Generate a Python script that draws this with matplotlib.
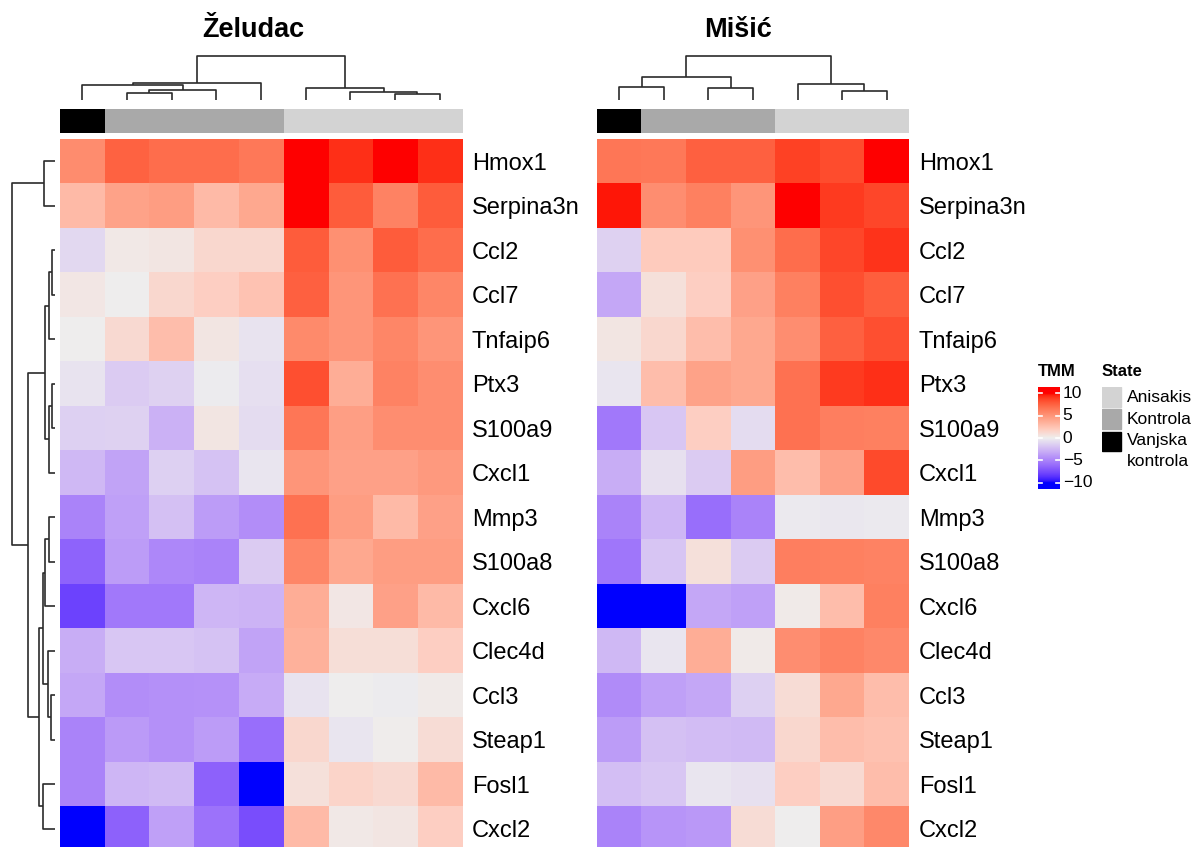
import numpy as np
import matplotlib
matplotlib.use("Agg")
import matplotlib.pyplot as plt
from matplotlib.colors import ListedColormap, Normalize

plt.rcParams['font.family'] = ['Liberation Sans', 'DejaVu Sans']

# ---- data -------------------------------------------------------------
genes = ['Hmox1', 'Serpina3n', 'Ccl2', 'Ccl7', 'Tnfaip6', 'Ptx3', 'S100a9', 'Cxcl1',
         'Mmp3', 'S100a8', 'Cxcl6', 'Clec4d', 'Ccl3', 'Steap1', 'Fosl1', 'Cxcl2']

zeludac = np.array([
    [5.5, 7.5, 7.0, 7.0, 6.5, 10, 9.3, 10, 9.3],
    [3.0, 4.3, 4.6, 3.0, 4.0, 10, 7.8, 6.0, 7.8],
    [-1.0, 0.3, 0.5, 1.3, 1.3, 7.8, 5.3, 7.8, 7.0],
    [0.4, 0.0, 1.3, 1.8, 2.5, 7.6, 5.0, 6.8, 5.8],
    [0.0, 1.2, 2.8, 0.5, -0.5, 5.6, 5.0, 5.8, 5.0],
    [-0.5, -1.6, -1.3, -0.1, -0.7, 8.3, 3.7, 6.0, 5.4],
    [-1.4, -1.3, -2.8, 0.5, -0.8, 6.6, 4.5, 5.4, 5.4],
    [-2.5, -3.5, -1.4, -2.0, -0.4, 5.0, 4.4, 4.4, 4.8],
    [-5.0, -3.6, -2.1, -3.8, -4.5, 6.8, 4.6, 3.0, 4.4],
    [-6.5, -3.8, -4.8, -5.0, -1.6, 5.8, 4.0, 4.6, 4.6],
    [-8.0, -5.5, -5.5, -2.6, -2.7, 3.7, 0.4, 4.4, 3.0],
    [-3.0, -1.8, -1.8, -2.0, -3.5, 3.5, 0.9, 0.9, 1.8],
    [-3.3, -4.5, -4.4, -4.3, -3.1, -0.5, 0.0, -0.1, 0.2],
    [-5.0, -3.9, -4.4, -3.8, -6.0, 1.3, -0.4, 0.1, 1.0],
    [-5.0, -2.6, -2.4, -6.6, -10, 0.8, 1.5, 1.2, 3.0],
    [-10, -6.6, -3.6, -5.8, -7.5, 3.0, 0.3, 0.5, 1.8],
])

misic = np.array([
    [6.6, 6.5, 7.6, 7.6, 8.8, 8.4, 10],
    [9.8, 5.4, 6.1, 5.0, 10, 9.0, 8.6],
    [-1.3, 2.0, 2.0, 5.3, 7.0, 8.6, 9.2],
    [-3.3, 0.8, 1.8, 4.4, 6.1, 8.3, 7.7],
    [0.5, 1.3, 2.8, 4.0, 5.4, 7.6, 8.3],
    [-0.4, 2.8, 4.3, 4.0, 6.8, 9.0, 9.3],
    [-5.5, -1.8, 1.8, -0.8, 6.8, 6.2, 6.1],
    [-3.0, -0.6, -1.6, 4.6, 2.8, 4.4, 8.5],
    [-5.0, -2.6, -6.0, -5.0, -0.2, -0.3, -0.2],
    [-5.6, -1.9, 0.8, -1.6, 6.2, 6.1, 6.0],
    [-10, -10, -3.3, -3.6, 0.2, 2.8, 6.1],
    [-2.5, -0.4, 3.7, 0.2, 5.4, 6.0, 5.7],
    [-4.6, -3.6, -3.3, -1.4, 1.0, 4.0, 2.8],
    [-3.8, -2.1, -2.3, -2.4, 1.3, 2.8, 2.6],
    [-2.2, -1.8, -0.4, -0.6, 1.8, 1.2, 2.8],
    [-5.0, -4.2, -4.0, 1.0, 0.0, 4.5, 5.7],
])

states = ['Anisakis', 'Kontrola', 'Vanjska\nkontrola']
state_colors = ['#D3D3D3', '#A9A9A9', '#000000']
zeludac_state = [2, 1, 1, 1, 1, 0, 0, 0, 0]
misic_state = [2, 1, 1, 1, 0, 0, 0]

# dendrograms: (height, left, right), leaves are column / row indices
zeludac_tree = (133, (50, (45, 0, (30, (20, 1, 2), 3)), 4), (37, 5, (25, 6, (18, 7, 8))))
misic_tree = (133, (68, (38, 0, 1), (37, 2, 3)), (48, 4, (27, 5, 6)))
row_tree = (130, (33, 0, 1),
            (80, (30, (17, (8, 2, 3), 4), (18, (8, 5, 6), 7)),
             (47, (37, (30, (17, 8, 9), 10), (20, 11, (13, 12, 13))), (35, 14, 15))))

tmm_breaks = [-10, -5, 0, 5, 10]


# ---- colour ramp in LAB space (blue - grey - red) ----------------------
def rgb_to_lab(rgb):
    c = np.asarray(rgb, float)
    lin = np.where(c <= 0.04045, c / 12.92, ((c + 0.055) / 1.055) ** 2.4)
    m = np.array([[0.4124, 0.3576, 0.1805], [0.2126, 0.7152, 0.0722], [0.0193, 0.1192, 0.9505]])
    xyz = lin @ m.T / np.array([0.95047, 1.0, 1.08883])
    d = 6 / 29
    f = np.where(xyz > d ** 3, np.cbrt(xyz), xyz / (3 * d * d) + 4 / 29)
    return np.stack([116 * f[..., 1] - 16, 500 * (f[..., 0] - f[..., 1]), 200 * (f[..., 1] - f[..., 2])], -1)


def lab_to_rgb(lab):
    lab = np.asarray(lab, float)
    fy = (lab[..., 0] + 16) / 116
    fx = fy + lab[..., 1] / 500
    fz = fy - lab[..., 2] / 200
    f = np.stack([fx, fy, fz], -1)
    d = 6 / 29
    xyz = np.where(f > d, f ** 3, 3 * d * d * (f - 4 / 29)) * np.array([0.95047, 1.0, 1.08883])
    minv = np.array([[3.2406, -1.5372, -0.4986], [-0.9689, 1.8758, 0.0415], [0.0557, -0.2040, 1.0570]])
    lin = np.clip(xyz @ minv.T, 0, 1)
    c = np.where(lin <= 0.0031308, 12.92 * lin, 1.055 * lin ** (1 / 2.4) - 0.055)
    return np.clip(c, 0, 1)


anchors = rgb_to_lab([[0, 0, 1], [0xEE / 255] * 3, [1, 0, 0]])
t = np.linspace(-1, 1, 512)
lab = np.where(t[:, None] < 0,
               anchors[1] + (anchors[1] - anchors[0]) * t[:, None],
               anchors[1] + (anchors[2] - anchors[1]) * t[:, None])
cmap = ListedColormap(lab_to_rgb(lab))
norm = Normalize(-10, 10)

# ---- layout (pixel based) ---------------------------------------------
W, H = 1191, 847
fig = plt.figure(figsize=(W / 100, H / 100), dpi=100)


def px_axes(x0, y0, x1, y1):
    ax = fig.add_axes([x0 / W, 1 - y1 / H, (x1 - x0) / W, (y1 - y0) / H])
    ax.set_axis_off()
    return ax


def draw_tree(ax, node, orient, lw=1.2, col='#2b2b2b'):
    """returns (position, height) of node"""
    if not isinstance(node, tuple):
        return node + 0.5, 0
    h, left, right = node
    pl, hl = draw_tree(ax, left, orient, lw, col)
    pr, hr = draw_tree(ax, right, orient, lw, col)
    ps = [pl, pl, pr, pr]
    hs = [hl, h, h, hr]
    if orient == 'top':
        ax.plot(ps, hs, color=col, lw=lw, clip_on=False, solid_capstyle='butt')
    else:
        ax.plot(hs, ps, color=col, lw=lw, clip_on=False, solid_capstyle='butt')
    return (pl + pr) / 2, h


hm_top, hm_bot = 139, 851
nrow = len(genes)

panels = [('Želudac', zeludac, zeludac_state, zeludac_tree, 60, 462, 253),
          ('Mišić', misic, misic_state, misic_tree, 597, 909, 738)]

for title, data, st, tree, x0, x1, tx in panels:
    ncol = data.shape[1]
    ax = fig.add_axes([x0 / W, 1 - hm_bot / H, (x1 - x0) / W, (hm_bot - hm_top) / H])
    ax.imshow(data, cmap=cmap, norm=norm, aspect='auto', interpolation='nearest',
              extent=(0, ncol, nrow, 0))
    for s in ax.spines.values():
        s.set_visible(False)
    ax.set_xticks([])
    ax.yaxis.tick_right()
    ax.set_yticks(np.arange(nrow) + 0.5, labels=genes, fontsize=17)
    ax.tick_params(axis='y', length=0, pad=7)

    bar = px_axes(x0, 109, x1, 133)
    bar.imshow([st], cmap=ListedColormap(state_colors), vmin=0, vmax=2, aspect='auto',
               interpolation='nearest', extent=(0, ncol, 1, 0))

    dax = px_axes(x0, 55.7, x1, 100)
    draw_tree(dax, tree, 'top')
    dax.set_xlim(0, ncol)
    dax.set_ylim(0, tree[0])

    fig.text(tx / W, 1 - 30 / H, title, ha='center', va='center',
             fontsize=19.5, fontweight='bold')

rax = px_axes(11.7, hm_top, 55, hm_bot)
draw_tree(rax, row_tree, 'left')
rax.set_xlim(row_tree[0], 0)
rax.set_ylim(nrow, 0)

# ---- TMM legend -------------------------------------------------------
cax = px_axes(1038, 387, 1060, 489)
lo, hi = -11.4, 11.4
grad = np.linspace(hi, lo, 200)[:, None]
cax.imshow(grad, cmap=cmap, norm=norm, aspect='auto', extent=(0, 1, lo, hi))
cax.set_xlim(0, 1)
cax.set_ylim(lo, hi)
for b in tmm_breaks:
    cax.plot([0, 0.18], [b, b], color='white', lw=1.2)
    cax.plot([0.82, 1], [b, b], color='white', lw=1.2)
    cax.text(1.12, b, f'{b}'.replace('-', '\u2212'), transform=cax.get_yaxis_transform(),
             ha='left', va='center', fontsize=12.5)
fig.text(1038 / W, 1 - 372 / H, 'TMM', ha='left', va='center', fontsize=12, fontweight='bold')

# ---- State legend -----------------------------------------------------
fig.text(1102 / W, 1 - 372 / H, 'State', ha='left', va='center', fontsize=12, fontweight='bold')
sax = px_axes(1102, 387, 1190, 475)
sax.set_xlim(1102, 1190)
sax.set_ylim(475, 387)
for i, (lab_txt, c) in enumerate(zip(states, state_colors)):
    y = 387 + i * 22.3
    sax.add_patch(plt.Rectangle((1102, y), 18.5, 19.5, color=c))
    sax.text(1127, y + 10, lab_txt, ha='left', va='top' if '\n' in lab_txt else 'center',
             fontsize=12.5, linespacing=1.5)
    if '\n' in lab_txt:
        sax.texts[-1].set_y(y + 1)

fig.savefig('out.png', dpi=100, facecolor='white')
